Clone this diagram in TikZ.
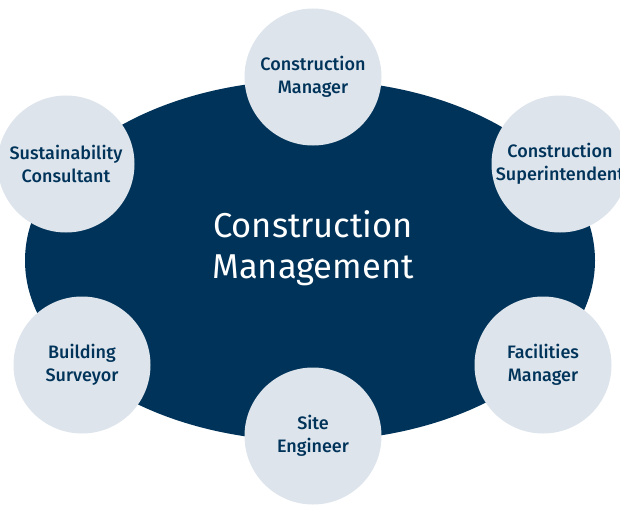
\documentclass[tikz,border=0pt]{standalone}
\usepackage{fontspec}
\setmainfont{Fira Sans}
\newfontfamily\circfont{Fira Sans Medium}
\usetikzlibrary{shapes.geometric}
\definecolor{navy}{HTML}{003359}
\definecolor{pale}{HTML}{DDE4EC}
\begin{document}
\begin{tikzpicture}[x=1pt,y=-1pt,
  role/.style={circle, fill=pale, minimum size=137pt, inner sep=0pt, text=navy,
    font=\circfont\fontsize{18}{23}\selectfont, align=center},
  core/.style={ellipse, fill=navy, minimum width=570pt, minimum height=361pt, inner sep=0pt},
  title/.style={text=white, font=\fontsize{34.5}{41}\selectfont, align=center}]
\useasboundingbox (0,0) rectangle (620,516);
\node[core] (hub) at (310,260.5) {};
\node[title] (label) at (313,248) {Construction\\Management};
\node[role] (cm) at (313,77) {Construction\\Manager};
\node[role] (cs) at (560,164) {Construction\\Superintendent};
\node[role] (sc) at (66,164) {Sustainability\\Consultant};
\node[role] (bs) at (82,365) {Building\\Surveyor};
\node[role] (fm) at (543,365) {Facilities\\Manager};
\node[role] (se) at (313,436) {Site\\Engineer};
\end{tikzpicture}
\end{document}
